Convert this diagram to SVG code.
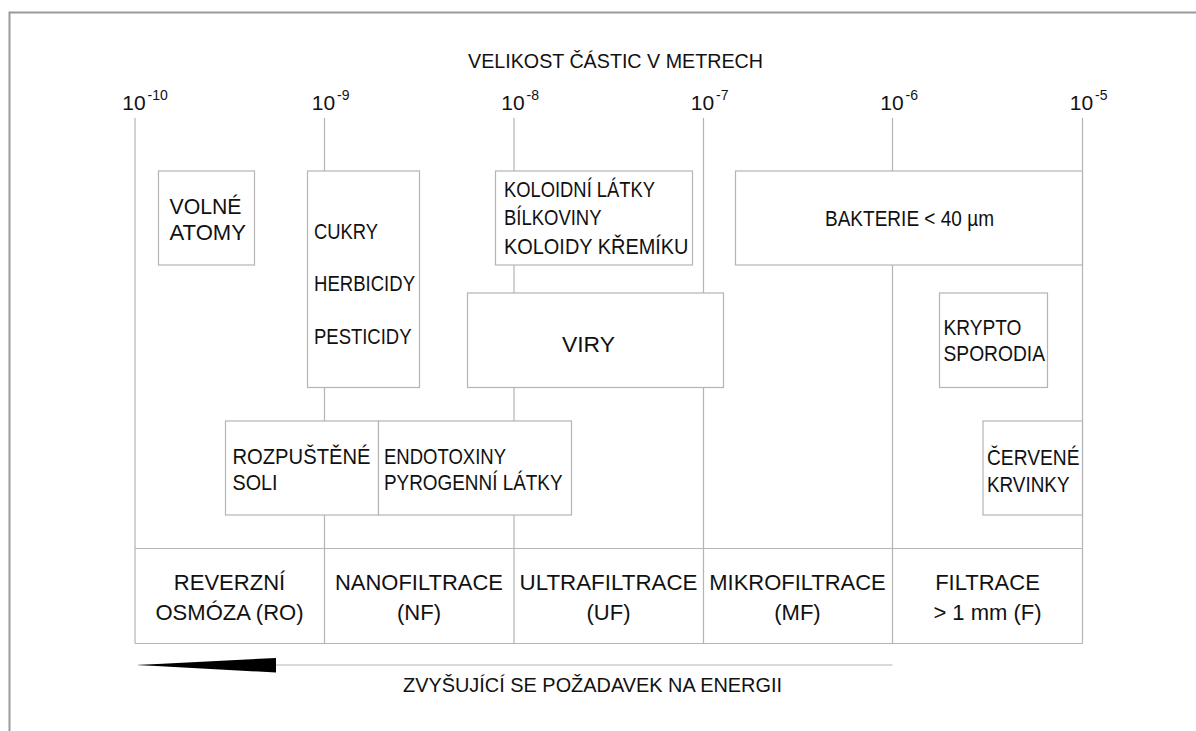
<svg xmlns="http://www.w3.org/2000/svg" width="1196" height="731" viewBox="0 0 1196 731">
<style>
text{font-family:"Liberation Sans",Arial,sans-serif;fill:#111}
.t{font-size:22px}
.m{font-size:22px;text-anchor:middle}
.sup{font-size:14px}
.ten{font-size:21px;text-anchor:middle}
.box{fill:#fff;stroke:#b4b4b4;stroke-width:1.2}
.grid{stroke:#b4b4b4;stroke-width:1.2;fill:none}
</style>
<rect x="0" y="0" width="1196" height="731" fill="#fff"/>
<rect x="9.5" y="12.5" width="1200" height="800" fill="none" stroke="#9a9a9a" stroke-width="2"/>

<g id="title">
<text x="468" y="67.5" style="font-size:20px" textLength="295" lengthAdjust="spacingAndGlyphs">VELIKOST ČÁSTIC V METRECH</text>
</g>

<g id="scale">
<text class="ten" x="134" y="110">10</text><text class="sup" x="147.5" y="99.5">-10</text>
<text class="ten" x="323.5" y="110">10</text><text class="sup" x="337" y="99.5">-9</text>
<text class="ten" x="513" y="110">10</text><text class="sup" x="526.5" y="99.5">-8</text>
<text class="ten" x="702.5" y="110">10</text><text class="sup" x="716" y="99.5">-7</text>
<text class="ten" x="892" y="110">10</text><text class="sup" x="905.5" y="99.5">-6</text>
<text class="ten" x="1081.5" y="110">10</text><text class="sup" x="1095" y="99.5">-5</text>
</g>

<g id="connectors" class="grid">
<line x1="135" y1="118" x2="135" y2="643.5"/>
<line x1="324.5" y1="118" x2="324.5" y2="643.5"/>
<line x1="514" y1="118" x2="514" y2="643.5"/>
<line x1="703.5" y1="118" x2="703.5" y2="643.5"/>
<line x1="892.5" y1="118" x2="892.5" y2="643.5"/>
<line x1="1082.5" y1="118" x2="1082.5" y2="643.5"/>
<line x1="135" y1="548.5" x2="1082.5" y2="548.5"/>
<line x1="135" y1="643.5" x2="1082.5" y2="643.5"/>
<line x1="138" y1="665" x2="892.5" y2="665"/>
</g>

<g id="volne-atomy">
<rect class="box" x="158.5" y="171" width="96" height="94"/>
<text class="t" x="169.5" y="213.5" textLength="72" lengthAdjust="spacingAndGlyphs">VOLNÉ</text>
<text class="t" x="169.5" y="239.5" textLength="76.5" lengthAdjust="spacingAndGlyphs">ATOMY</text>
</g>

<g id="cukry">
<rect class="box" x="307.5" y="171" width="112" height="216.5"/>
<text class="t" x="314" y="238.5" textLength="64" lengthAdjust="spacingAndGlyphs">CUKRY</text>
<text class="t" x="314" y="291" textLength="101" lengthAdjust="spacingAndGlyphs">HERBICIDY</text>
<text class="t" x="314" y="344" textLength="97.5" lengthAdjust="spacingAndGlyphs">PESTICIDY</text>
</g>

<g id="koloidni">
<rect class="box" x="495.5" y="171" width="197" height="94"/>
<text class="t" x="504" y="197" textLength="151" lengthAdjust="spacingAndGlyphs">KOLOIDNÍ LÁTKY</text>
<text class="t" x="504" y="225" textLength="97.5" lengthAdjust="spacingAndGlyphs">BÍLKOVINY</text>
<text class="t" x="504" y="254" textLength="184.5" lengthAdjust="spacingAndGlyphs">KOLOIDY KŘEMÍKU</text>
</g>

<g id="bakterie">
<rect class="box" x="735.5" y="171" width="347" height="94"/>
<text class="t" x="825" y="226" textLength="169" lengthAdjust="spacingAndGlyphs">BAKTERIE &lt; 40 µm</text>
</g>

<g id="viry">
<rect class="box" x="467.5" y="293" width="256" height="94.5"/>
<text class="m" x="588.5" y="352" textLength="53" lengthAdjust="spacingAndGlyphs">VIRY</text>
</g>

<g id="krypto">
<rect class="box" x="939.5" y="293" width="108" height="94.5"/>
<text class="t" x="943.5" y="334.5" textLength="78" lengthAdjust="spacingAndGlyphs">KRYPTO</text>
<text class="t" x="943.5" y="361" textLength="101.5" lengthAdjust="spacingAndGlyphs">SPORODIA</text>
</g>

<g id="rozpustene">
<rect class="box" x="225.5" y="421" width="153" height="94"/>
<text class="t" x="232.5" y="463.5" textLength="138" lengthAdjust="spacingAndGlyphs">ROZPUŠTĚNÉ</text>
<text class="t" x="232.5" y="489.5" textLength="45" lengthAdjust="spacingAndGlyphs">SOLI</text>
</g>

<g id="endotoxiny">
<rect class="box" x="378.5" y="421" width="193" height="94"/>
<text class="t" x="384" y="463.5" textLength="122" lengthAdjust="spacingAndGlyphs">ENDOTOXINY</text>
<text class="t" x="384" y="489.5" textLength="178.5" lengthAdjust="spacingAndGlyphs">PYROGENNÍ LÁTKY</text>
</g>

<g id="cervene">
<rect class="box" x="983" y="421" width="99.5" height="94"/>
<text class="t" x="987" y="465" textLength="92.5" lengthAdjust="spacingAndGlyphs">ČERVENÉ</text>
<text class="t" x="987" y="491.5" textLength="82.5" lengthAdjust="spacingAndGlyphs">KRVINKY</text>
</g>

<g id="ro">
<text class="m" x="229.5" y="590" textLength="111.5" lengthAdjust="spacingAndGlyphs">REVERZNÍ</text>
<text class="m" x="229.5" y="620" textLength="148" lengthAdjust="spacingAndGlyphs">OSMÓZA (RO)</text>
</g>
<g id="nf">
<text class="m" x="419" y="590" textLength="168" lengthAdjust="spacingAndGlyphs">NANOFILTRACE</text>
<text class="m" x="419" y="620">(NF)</text>
</g>
<g id="uf">
<text class="m" x="608.5" y="590" textLength="178" lengthAdjust="spacingAndGlyphs">ULTRAFILTRACE</text>
<text class="m" x="608.5" y="620">(UF)</text>
</g>
<g id="mf">
<text class="m" x="797.5" y="590" textLength="176.5" lengthAdjust="spacingAndGlyphs">MIKROFILTRACE</text>
<text class="m" x="797.5" y="620">(MF)</text>
</g>
<g id="f">
<text class="m" x="987.5" y="590">FILTRACE</text>
<text class="m" x="987.5" y="620">&gt; 1 mm (F)</text>
</g>

<g id="energy">
<polygon points="138,665 276,658 276,672.5" fill="#000"/>
<text x="403" y="692" style="font-size:20px" textLength="379" lengthAdjust="spacingAndGlyphs">ZVYŠUJÍCÍ SE POŽADAVEK NA ENERGII</text>
</g>
</svg>
